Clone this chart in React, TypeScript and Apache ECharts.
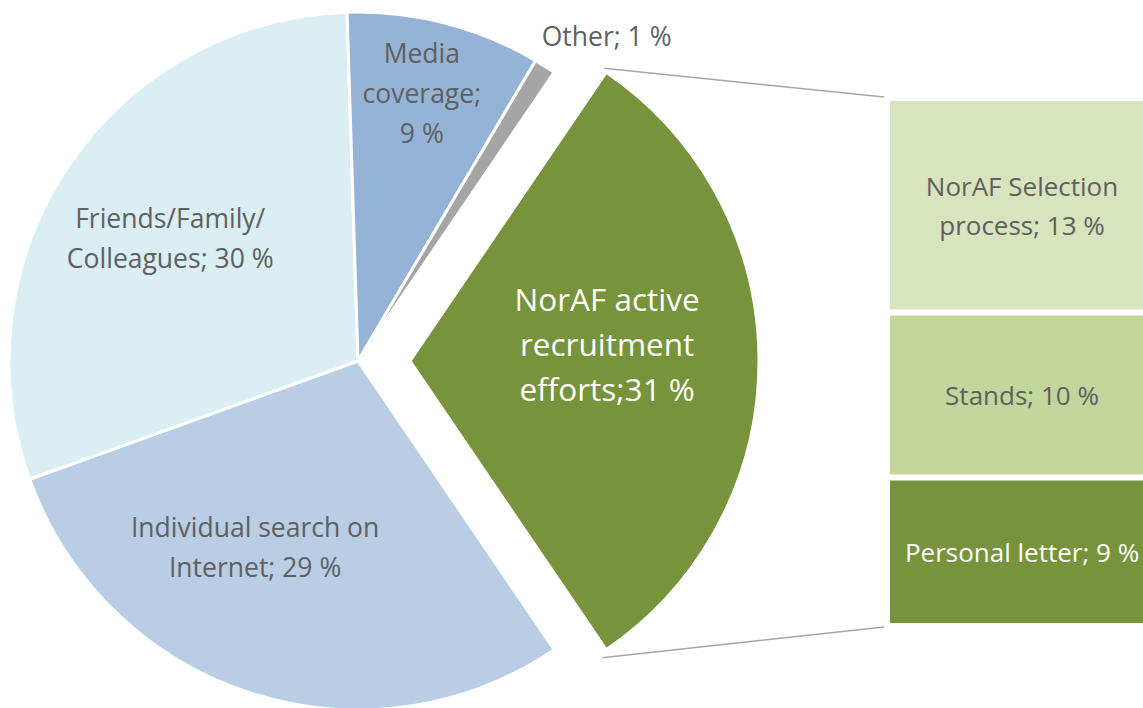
import React, { useEffect, useRef } from "react";
import * as echarts from "echarts";

// ---- data ----
const pieNames = [
  "NorAF active recruitment efforts",
  "Individual search on Internet",
  "Friends/Family/Colleagues",
  "Media coverage",
  "Other",
];
const pieLabels = [
  "NorAF active\nrecruitment\nefforts;31 %",
  "Individual search on\nInternet; 29 %",
  "Friends/Family/\nColleagues; 30 %",
  "Media\ncoverage;\n9 %",
  "Other; 1 %",
];
const pieValues = [31, 29, 30, 9, 1];
const pieColors = ["#77933C", "#B9CDE5", "#DAEEF3", "#95B3D7", "#A5A5A5"];

const barNames = ["NorAF Selection process", "Stands", "Personal letter"];
const barLabels = ["NorAF Selection\nprocess; 13 %", "Stands; 10 %", "Personal letter; 9 %"];
const barValues = [13, 10, 9];
const barColors = ["#D7E4BD", "#C3D69B", "#77933C"];

// ---- layout / style ----
const PIE_CX = 358;
const PIE_CY = 361;
const PIE_R = 349;
const EXPLODE = 52;
// label placement: [radius fraction, angle shift in degrees]
const labelPlace: [number, number][] = [
  [0.567, 5],
  [0.608, -11],
  [0.643, 1],
  [0.789, 1],
  [1.173, -5],
];
const GRID_LEFT = 887;
const GRID_TOP = 98;
const GRID_BOTTOM = 82;
const GRID_WIDTH = 270;
const TEXT_GRAY = "#606060";
const FONT = "'Open Sans'";

export default function App() {
  const ref = useRef<HTMLDivElement>(null);

  useEffect(() => {
    if (!ref.current) return;
    const chart = echarts.init(ref.current, null, { renderer: "svg" });

    const total = pieValues.reduce((a, b) => a + b, 0);
    const startAngle = ((pieValues[0] / total) * 360) / 2;

    // compute slice mid-angles for labels
    const texts: any[] = [];
    let cum = 0;
    pieValues.forEach((v, i) => {
      const a0 = startAngle - (cum / total) * 360;
      const a1 = a0 - (v / total) * 360;
      cum += v;
      const mid = ((a0 + a1) / 2) * (Math.PI / 180);
      const [frac, shift] = labelPlace[i];
      const ang = mid + (shift * Math.PI) / 180;
      const off = i === 0 ? EXPLODE : 0;
      const x = PIE_CX + off * Math.cos(mid) + frac * PIE_R * Math.cos(ang);
      const y = PIE_CY - off * Math.sin(mid) - frac * PIE_R * Math.sin(ang);
      const big = i === 0;
      texts.push({
        type: "text",
        x,
        y,
        silent: true,
        z: 100,
        style: {
          text: pieLabels[i],
          fill: big ? "#ffffff" : TEXT_GRAY,
          font: `${big ? 31.5 : 26.5}px ${FONT}`,
          lineHeight: big ? 45 : 40,
          align: "center",
          verticalAlign: "middle",
        },
      });
    });

    const barTotal = barValues.reduce((a, b) => a + b, 0);

    chart.setOption({
      animation: false,
      backgroundColor: "#ffffff",
      grid: {
        left: GRID_LEFT,
        width: GRID_WIDTH,
        top: GRID_TOP,
        bottom: GRID_BOTTOM,
        outerBoundsMode: "none",
        containLabel: false,
      },
      xAxis: { type: "category", data: ["detail"], show: false },
      yAxis: { type: "value", min: 0, max: barTotal, inverse: true, show: false },
      series: [
        {
          type: "pie",
          center: [PIE_CX, PIE_CY],
          radius: PIE_R,
          startAngle,
          clockwise: true,
          selectedMode: "single",
          selectedOffset: EXPLODE,
          avoidLabelOverlap: false,
          label: { show: false },
          labelLine: { show: false },
          emphasis: { disabled: true },
          itemStyle: { borderColor: "#ffffff", borderWidth: 3 },
          data: pieValues.map((v, i) => ({
            value: v,
            name: pieNames[i],
            selected: i === 0,
            itemStyle: { color: pieColors[i] },
          })),
        },
        ...barValues.map((v, i) => ({
          type: "bar",
          name: barNames[i],
          stack: "detail",
          barWidth: "100%",
          data: [v],
          silent: true,
          emphasis: { disabled: true },
          itemStyle: { color: barColors[i], borderColor: "#ffffff", borderWidth: 3 },
          label: {
            show: true,
            position: "inside",
            formatter: barLabels[i],
            color: i === 2 ? "#ffffff" : TEXT_GRAY,
            fontSize: 26,
            fontFamily: "Open Sans",
            lineHeight: 39,
          },
        })),
      ],
      graphic: texts,
    });

    // connector lines from exploded slice to bar corners
    const rad = (startAngle * Math.PI) / 180;
    const sx = PIE_CX + EXPLODE + PIE_R * Math.cos(rad);
    const syTop = PIE_CY - PIE_R * Math.sin(rad);
    const syBot = PIE_CY + PIE_R * Math.sin(rad);
    const yTop = chart.convertToPixel({ yAxisIndex: 0 }, 0) as number;
    const yBot = chart.convertToPixel({ yAxisIndex: 0 }, barTotal) as number;
    const bx = GRID_LEFT - 3;
    chart.setOption({
      graphic: [
        ...texts,
        {
          type: "line",
          silent: true,
          shape: { x1: sx - 2, y1: syTop - 4, x2: bx, y2: yTop - 1 },
          style: { stroke: "#A6A6A6", lineWidth: 1.5 },
        },
        {
          type: "line",
          silent: true,
          shape: { x1: sx - 4, y1: syBot + 8, x2: bx, y2: yBot + 1 },
          style: { stroke: "#A6A6A6", lineWidth: 1.5 },
        },
      ],
    });

    return () => chart.dispose();
  }, []);

  return (
    <div
      ref={ref}
      style={{ position: "fixed", left: 0, top: 0, width: 1143, height: 708 }}
    />
  );
}
